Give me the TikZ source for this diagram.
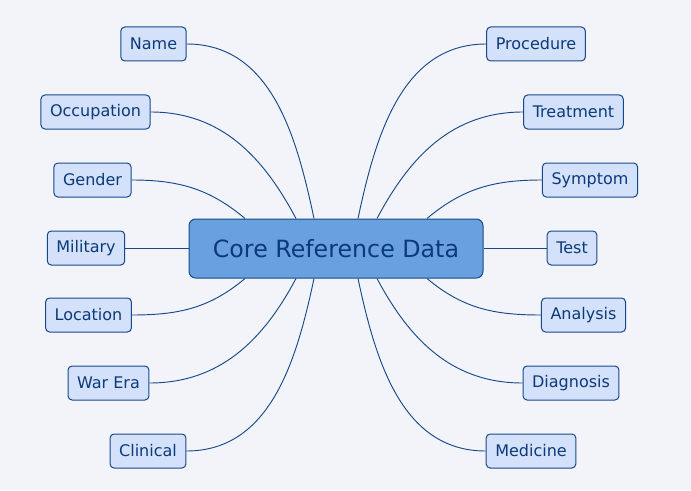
\documentclass[tikz,border=0pt]{standalone}
\usepackage{fontspec}
\setmainfont{DejaVu Sans}
\usepackage{tikz}
\usetikzlibrary{positioning,calc}
\definecolor{bgpage}{RGB}{243,244,249}
\definecolor{leaffill}{RGB}{212,225,251}
\definecolor{corefill}{RGB}{104,161,222}
\definecolor{edgeblue}{RGB}{22,72,138}
\definecolor{textblue}{RGB}{12,58,120}

\begin{document}
\begin{tikzpicture}[
  x=0.75pt, y=0.75pt,
  leaf/.style={draw=edgeblue, fill=leaffill, rounded corners=3pt, line width=0.75pt,
    minimum height=25.5pt, inner xsep=6.8pt, text=textblue, font=\fontsize{12}{14}\selectfont},
  core/.style={draw=edgeblue, fill=corefill, rounded corners=5pt, line width=0.75pt,
    minimum width=220.5pt, minimum height=44.25pt, text=textblue, font=\fontsize{17.8}{20}\selectfont},
  link/.style={draw=edgeblue, line width=0.7pt}
]
\useasboundingbox[fill=bgpage] (0,0) rectangle (691,490);

\node[core] (core) at (336,241.5) {Core Reference Data};

% left branch
\node[leaf] (name) at (153.5,446) {Name};
\node[leaf] (occupation) at (95.5,378) {Occupation};
\node[leaf] (gender) at (92.5,310) {Gender};
\node[leaf] (military) at (86,242) {Military};
\node[leaf] (location) at (88.5,175) {Location};
\node[leaf] (warera) at (108.5,107) {War Era};
\node[leaf] (clinical) at (148,39) {Clinical};

% right branch
\node[leaf] (procedure) at (536,446) {Procedure};
\node[leaf] (treatment) at (573.5,378) {Treatment};
\node[leaf] (symptom) at (590,310) {Symptom};
\node[leaf] (test) at (572,242) {Test};
\node[leaf] (analysis) at (583.5,175) {Analysis};
\node[leaf] (diagnosis) at (571,107) {Diagnosis};
\node[leaf] (medicine) at (531,39) {Medicine};

\draw[link] (name.east) to[out=0,in=102] ($(core.north)+(-22,0)$);
\draw[link] (occupation.east) to[out=0,in=118] ($(core.north)+(-40,0)$);
\draw[link] (gender.east) to[out=0,in=140] ($(core.north)+(-91,0)$);
\draw[link] (military.east) -- (military.east -| core.west);
\draw[link] (location.east) to[out=0,in=-140] ($(core.south)+(-91,0)$);
\draw[link] (warera.east) to[out=0,in=-118] ($(core.south)+(-40,0)$);
\draw[link] (clinical.east) to[out=0,in=-102] ($(core.south)+(-22,0)$);

\draw[link] (procedure.west) to[out=180,in=78] ($(core.north)+(22,0)$);
\draw[link] (treatment.west) to[out=180,in=62] ($(core.north)+(41,0)$);
\draw[link] (symptom.west) to[out=180,in=40] ($(core.north)+(91,0)$);
\draw[link] (test.west) -- (test.west -| core.east);
\draw[link] (analysis.west) to[out=180,in=-40] ($(core.south)+(91,0)$);
\draw[link] (diagnosis.west) to[out=180,in=-62] ($(core.south)+(41,0)$);
\draw[link] (medicine.west) to[out=180,in=-78] ($(core.south)+(22,0)$);
\end{tikzpicture}
\end{document}
